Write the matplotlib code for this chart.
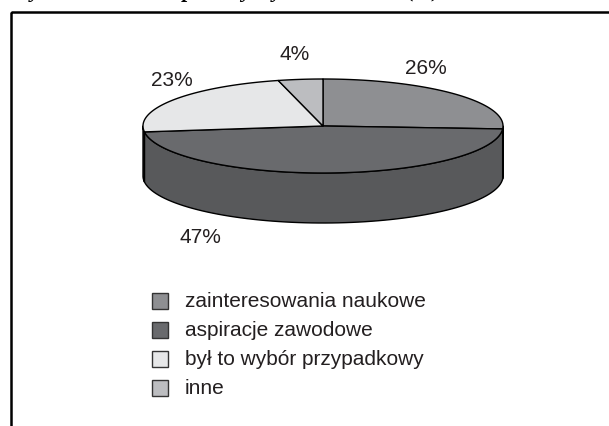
"""
Wykres kołowy 3D – powody wyboru kierunku studiów (%)
"""

import numpy as np
import matplotlib.pyplot as plt
from matplotlib.patches import Polygon, Rectangle

# ── Dane ─────────────────────────────────────────────────────────
kategorie = ["zainteresowania naukowe", "aspiracje zawodowe",
             "był to wybór przypadkowy", "inne"]
procenty = [26, 47, 23, 4]
etykiety = ["26%", "47%", "23%", "4%"]

kolory_gora = ["#8e8f92", "#696a6d", "#e6e7e8", "#bcbdc0"]
kolory_bok = ["#77787b", "#58595b", "#c9cacc", "#a2a3a6"]

# ── Geometria (piksele) ──────────────────────────────────────────
cx, cy = 323, 127
rx, ry = 180, 47
glab = 50
etyk_poz = [(426, 68), (200, 238), (172, 80), (295, 54)]

fig = plt.figure(figsize=(6.09, 4.27), dpi=100)
ax = fig.add_axes([0, 0, 1, 1])
ax.set_xlim(0, 609)
ax.set_ylim(427, 0)
ax.axis("off")

# ramka (ucięta z prawej i u dołu)
ax.add_patch(Rectangle((10.5, 12.5), 640, 450, fill=False, ec="black", lw=1.8))

# tytuł – widoczne tylko dolne fragmenty liter
ax.text(12, -3.5, "Wykres 3. Główne powody wyboru studiów (%)",
        family="Liberation Serif", style="italic", weight="bold",
        fontsize=16, va="baseline", ha="left", clip_on=False)


def punkt(t, dy=0):
    return cx + rx * np.cos(t), cy - ry * np.sin(t) + dy


# kąty brzegowe (od godz. 12, zgodnie z ruchem wskazówek)
granice = 90 - 360 * np.cumsum([0] + procenty) / 100.0

# ── Ściana boczna (dolna połowa elipsy) ──────────────────────────
for i in range(len(procenty)):
    a0, a1 = granice[i + 1], granice[i]  # a0 < a1
    for off in (0, 360):
        l2, h2 = max(a0 + off, -180), min(a1 + off, 0)
        if h2 <= l2:
            continue
        t = np.radians(np.linspace(l2, h2, 80))
        gora = np.column_stack(punkt(t))
        dol = np.column_stack(punkt(t[::-1], glab))
        ax.add_patch(Polygon(np.vstack([gora, dol]), closed=True,
                             fc=kolory_bok[i], ec="black", lw=1.0,
                             joinstyle="round"))

# ── Wierzch ──────────────────────────────────────────────────────
for i in range(len(procenty)):
    t = np.radians(np.linspace(granice[i], granice[i + 1], 120))
    luk = np.column_stack(punkt(t))
    pts = np.vstack([[cx, cy], luk])
    ax.add_patch(Polygon(pts, closed=True, fc=kolory_gora[i],
                         ec="black", lw=1.0, joinstyle="round"))

for txt, (x, y) in zip(etykiety, etyk_poz):
    ax.text(x, y, txt, ha="center", va="center", fontsize=15,
            family="Liberation Sans", color="#231f20")

# ── Legenda ──────────────────────────────────────────────────────
for i, nazwa in enumerate(kategorie):
    y = 302 + i * 29
    ax.add_patch(Rectangle((152, y - 8), 16, 16, fc=kolory_gora[i],
                           ec="#333333", lw=1.0))
    ax.text(185, y, nazwa, ha="left", va="center", fontsize=15,
            family="Liberation Sans", color="#231f20")

fig.savefig("out.png", dpi=100, facecolor="white")
plt.close()
